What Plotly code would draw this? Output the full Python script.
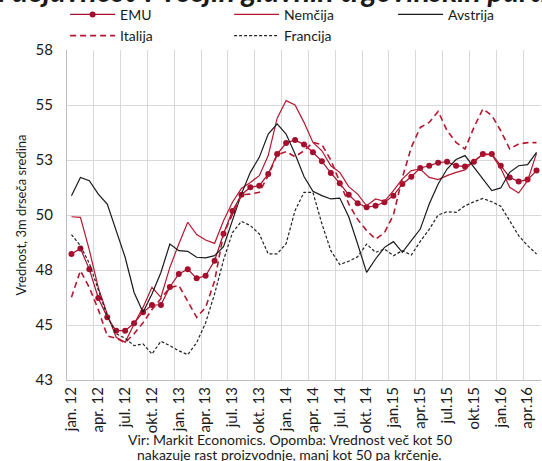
import plotly.graph_objects as go

# ---- data ----
months = [f"{m}.{y}" for y in range(12, 17) for m in
          ["jan", "feb", "mar", "apr", "maj", "jun", "jul", "avg", "sep", "okt", "nov", "dec"]][:53]

emu = [48.23, 48.48, 47.53, 46.23, 45.35, 44.74, 44.74, 45.08, 45.58, 45.91,
       45.91, 46.73, 47.32, 47.53, 47.12, 47.24, 47.92, 49.15, 50.18, 50.92,
       51.26, 51.33, 51.86, 52.77, 53.27, 53.41, 53.20, 52.85, 52.44, 51.91,
       51.44, 50.92, 50.53, 50.35, 50.42, 50.58, 50.88, 51.41, 51.74, 52.14,
       52.24, 52.38, 52.42, 52.24, 52.20, 52.42, 52.77, 52.77, 52.24, 51.71,
       51.52, 51.61, 52.02]

nemcija = [49.92, 49.89, 48.40, 46.70, 45.50, 44.44, 44.21, 45.05, 45.80, 46.71,
           46.26, 47.62, 48.68, 49.67, 49.11, 48.86, 48.71, 49.74, 50.58, 51.21,
           51.48, 51.79, 52.70, 54.40, 55.20, 55.00, 54.21, 53.30, 52.92, 52.24,
           51.94, 51.29, 50.95, 50.42, 50.73, 50.62, 51.11, 51.64, 52.02, 52.09,
           51.71, 51.61, 51.79, 51.94, 52.05, 52.47, 52.74, 52.74, 52.12, 51.26,
           51.00, 51.56, 52.80]

avstrija = [50.88, 51.71, 51.56, 50.95, 50.50, 49.29, 48.08, 46.48, 45.58, 46.41,
            47.39, 48.68, 48.38, 48.35, 48.08, 48.05, 48.15, 48.56, 49.74, 50.95,
            51.94, 52.62, 53.68, 54.14, 53.68, 52.77, 51.75, 51.08, 50.88, 50.73,
            50.77, 49.92, 48.68, 47.39, 48.00, 48.53, 48.79, 48.30, 48.83, 49.36,
            50.50, 51.41, 52.09, 52.52, 52.70, 52.17, 51.64, 51.11, 51.23, 51.94,
            52.24, 52.29, 52.85]

italija = [46.26, 47.47, 46.70, 45.70, 44.50, 44.40, 44.20, 44.60, 45.10, 45.70,
           46.20, 46.70, 46.80, 46.10, 45.35, 45.80, 47.00, 49.14, 50.05, 50.92,
           50.95, 51.03, 51.79, 52.74, 52.88, 52.65, 52.92, 53.30, 53.20, 52.50,
           51.50, 50.50, 49.80, 49.30, 48.90, 49.20, 50.00, 51.70, 53.08, 53.98,
           54.21, 54.71, 53.83, 53.30, 53.00, 53.98, 54.82, 54.52, 53.83, 53.00,
           53.23, 53.29, 53.29]

francija = [49.11, 48.60, 47.80, 46.60, 45.40, 44.60, 44.40, 44.06, 44.14, 43.68,
            44.26, 44.06, 43.83, 43.65, 44.20, 45.10, 46.41, 47.95, 49.20, 49.71,
            49.52, 49.14, 48.23, 48.23, 48.70, 50.20, 51.03, 51.03, 49.60, 48.38,
            47.75, 47.90, 48.10, 48.68, 48.30, 48.45, 48.15, 48.38, 48.18, 48.80,
            49.35, 50.00, 50.15, 50.12, 50.42, 50.60, 50.75, 50.60, 50.40, 49.74,
            49.06, 48.61, 48.23]

tick_labels = ["jan. 12", "apr. 12", "jul. 12", "okt. 12", "jan. 13", "apr. 13",
               "jul. 13", "okt. 13", "jan. 14", "apr. 14", "jul. 14", "okt. 14",
               "jan.15", "apr.15", "jul.15", "okt.15", "jan.16", "apr.16"]
y_ticks = [42.5, 45, 47.5, 50, 52.5, 55, 57.5]
y_tick_labels = ["43", "45", "48", "50", "53", "55", "58"]

# ---- figure ----
x = list(range(len(months)))
RED = "#A50F2D"
RED2 = "#B5172F"
FONT = "Lato"

fig = go.Figure()
fig.add_trace(go.Scatter(x=x, y=emu, name="EMU", mode="lines+markers",
                         line=dict(color=RED, width=1.2),
                         marker=dict(color=RED, size=6, symbol="circle")))
fig.add_trace(go.Scatter(x=x, y=nemcija, name="Nemčija", mode="lines",
                         line=dict(color=RED2, width=1.2)))
fig.add_trace(go.Scatter(x=x, y=avstrija, name="Avstrija", mode="lines",
                         line=dict(color="#1a1a1a", width=1.2)))
fig.add_trace(go.Scatter(x=x, y=italija, name="Italija", mode="lines",
                         line=dict(color=RED2, width=1.6, dash="6px,4px")))
fig.add_trace(go.Scatter(x=x, y=francija, name="Francija", mode="lines",
                         line=dict(color="#222222", width=1.2, dash="3px,2px")))

fig.update_layout(
    width=542, height=461,
    margin=dict(l=67, r=1, t=50, b=81, autoexpand=False),
    paper_bgcolor="white", plot_bgcolor="white",
    font=dict(family=FONT, size=14, color="#1a1a1a"),
    showlegend=True,
    legend=dict(orientation="h", x=-0.004, xanchor="left", y=1.155, yanchor="top",
                yref="paper", entrywidth=104, entrywidthmode="pixels",
                font=dict(size=14), itemwidth=45, tracegroupgap=0,
                bgcolor="rgba(0,0,0,0)"),
    xaxis=dict(range=[-0.5, 52.5], tickmode="array", automargin=False,
               tickvals=list(range(0, 53, 3)), ticktext=tick_labels,
               tickangle=-90, showgrid=False, zeroline=False,
               showline=True, linecolor="#bfbfbf", linewidth=1,
               ticks="", tickfont=dict(size=15),
               minor=dict(tickmode="array", tickvals=[2.5 + 3 * k for k in range(17)],
                          showgrid=True, gridcolor="#d9d9d9", gridwidth=1, ticks="")),
    yaxis=dict(range=[42.5, 57.5], tickmode="array", tickvals=y_ticks, automargin=False,
               ticktext=y_tick_labels, showgrid=True, gridcolor="#d9d9d9",
               gridwidth=1, zeroline=False, showline=True, linecolor="#bfbfbf",
               linewidth=1, ticks="", ticklabelstandoff=10,
               tickfont=dict(size=15),
               title=dict(text="Vrednost, 3m drseča sredina", font=dict(size=13),
                          standoff=6)),
)

fig.add_annotation(text="<b><i>Industrijska dejavnost v večjih glavnih trgovinskih partnericah</i></b>",
                   xref="paper", yref="paper", x=-0.445, y=1.121,
                   xanchor="left", yanchor="bottom", showarrow=False,
                   font=dict(family=FONT, size=30, color="#1a1a1a"))
fig.add_annotation(text="Vir: Markit Economics. Opomba: Vrednost več kot 50",
                   xref="paper", yref="paper", x=0.47, y=-0.179,
                   xanchor="center", yanchor="middle", showarrow=False,
                   font=dict(family=FONT, size=14, color="#1a1a1a"))
fig.add_annotation(text="nakazuje rast proizvodnje, manj kot 50 pa krčenje.",
                   xref="paper", yref="paper", x=0.47, y=-0.226,
                   xanchor="center", yanchor="middle", showarrow=False,
                   font=dict(family=FONT, size=14, color="#1a1a1a"))

fig.write_html("out.html", config={"displayModeBar": False},
               post_script="document.body.style.margin='0';")
